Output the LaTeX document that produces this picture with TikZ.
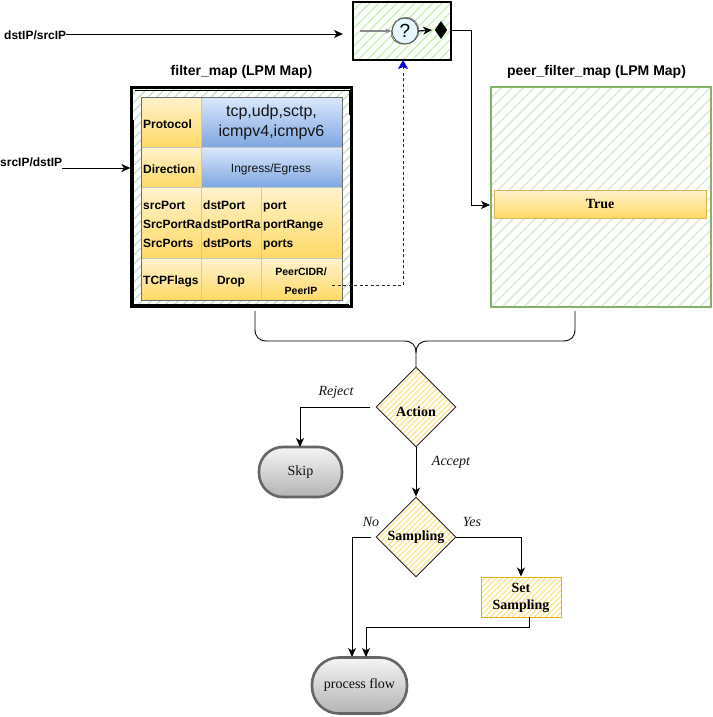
\documentclass[tikz,border=0pt]{standalone}
\usepackage{fontspec}
\setmainfont{Liberation Serif}
\setsansfont{Liberation Sans}
\usetikzlibrary{shapes.geometric,arrows.meta,calc}
\definecolor{hgreen}{HTML}{D5E8D4}
\definecolor{hframe}{HTML}{C5DFC3}
\definecolor{hlime}{HTML}{C4EFB0}
\definecolor{hyellow}{HTML}{FFE48A}
\definecolor{edgegreen}{HTML}{82B366}
\definecolor{edgeyellow}{HTML}{D6B656}
\definecolor{setedge}{HTML}{E6AC1E}
\definecolor{cellline}{HTML}{6E6E6E}
\definecolor{ytop}{HTML}{FFF2CC}
\definecolor{ybot}{HTML}{FFD966}
\definecolor{btop}{HTML}{DAE8FC}
\definecolor{bbot}{HTML}{7EA6E0}
\definecolor{gtop}{HTML}{F5F5F5}
\definecolor{gbot}{HTML}{B3B3B3}
\newcommand{\hatchbox}[7]{%
  \begin{scope}
    \clip (#1,#2) rectangle (#3,#4);
    \foreach \hi in {0,#6,...,700} {
      \draw[#5,line width=#7] ({#1+\hi-(#4-#2)},#4) -- ({#1+\hi},#2);
    }
  \end{scope}}
\tikzset{
  x=1pt,y=-1pt,
  wire/.style={draw=black,line width=0.85pt},
  arrowed/.style={wire,-{Stealth[length=9pt,width=8pt,inset=2.5pt]}},
  sanslabel/.style={font=\sffamily\bfseries\fontsize{14}{16}\selectfont,text=black},
  portlabel/.style={font=\sffamily\bfseries\fontsize{12}{14}\selectfont,text=black,inner sep=0pt,anchor=west},
  celltext/.style={font=\sffamily\bfseries\fontsize{12}{14}\selectfont,text=black,inner sep=0pt},
  portrows/.style={anchor=north west,inner sep=0pt,align=left,font=\sffamily\bfseries\fontsize{12}{19}\selectfont,text=black},
  edgelabel/.style={font=\itshape\fontsize{14}{16}\selectfont,text=black!92},
  ycell/.style={draw=black!22,line width=0.5pt,top color=ytop,bottom color=ybot,anchor=north west,inner sep=0pt},
  bcell/.style={draw=black!22,line width=0.5pt,top color=btop,bottom color=bbot,anchor=north west,inner sep=0pt},
  blob/.style={draw=black!60,line width=2.6pt,top color=gtop,bottom color=gbot,rounded corners=24pt,font=\fontsize{14}{16}\selectfont,text=black!95,inner sep=0pt},
  decision/.style={diamond,draw=black!85,line width=0.9pt,minimum width=80pt,minimum height=80pt,inner sep=0pt},
  dectext/.style={font=\bfseries\fontsize{14}{16}\selectfont,text=black,inner sep=0pt},
}
\begin{document}
\begin{tikzpicture}
\useasboundingbox (0,0) rectangle (712,717);
\fill[white] (0,0) rectangle (712,717);

% top matcher box
\hatchbox{353}{2}{451}{60}{hlime}{9}{1.1pt}
\node[draw=black,line width=2pt,minimum width=98pt,minimum height=58pt,inner sep=0pt] (lookup) at (402,31) {};
\node[circle,draw=black!65,line width=0.9pt,fill=cyan!10,minimum size=26pt,inner sep=0pt,font=\sffamily\fontsize{19}{19}\selectfont] (glyph) at (405,31) {?};
\draw[black!65,line width=0.6pt] (393,27) .. controls (396,15) and (414,14) .. (418,26) .. controls (422,40) and (408,47) .. (398,43) .. controls (390,39) and (390,33) .. (393,27);
\draw[black!45,line width=1.4pt,-{Stealth[length=6pt,width=5pt]}] (360,31) -- (glyph.west);
\draw[black,line width=1.2pt,-{Stealth[length=9pt,width=8pt]}] (glyph.east) -- (432,30);
\node[diamond,fill=black,draw=black,minimum width=12pt,minimum height=17pt,shape aspect=0.75,inner sep=0pt] (stop) at (441,30) {};

% filter map
\node[sanslabel] (ftitle) at (241.5,72) {filter\_map (LPM Map)};
\hatchbox{131}{87}{352}{307}{hframe}{9}{1.4pt}
\node[draw=black,line width=2.2pt,minimum width=220pt,minimum height=219pt,inner sep=0pt] (filter) at (241.5,197) {};
\draw[black,line width=0.7pt] (133.5,120) -- (133.5,304) -- (349,304);
\draw[black,line width=0.7pt] (135,90) -- (349,90) -- (349,115);
\draw[black,line width=1pt] (350,115) -- (350,250);

\node[ycell,minimum width=60pt,minimum height=50pt] (protocol) at (141,97) {};
\node[bcell,minimum width=141pt,minimum height=50pt] (protoval) at (201,97) {};
\node[ycell,minimum width=60pt,minimum height=40pt] (direction) at (141,147) {};
\node[bcell,minimum width=141pt,minimum height=40pt] (dirval) at (201,147) {};
\node[ycell,minimum width=60pt,minimum height=71pt] (srccell) at (141,187) {};
\node[ycell,minimum width=60pt,minimum height=71pt] (dstcell) at (201,187) {};
\node[ycell,minimum width=81pt,minimum height=71pt] (portcell) at (261,187) {};
\node[ycell,minimum width=60pt,minimum height=42pt] (flags) at (141,258) {};
\node[ycell,minimum width=60pt,minimum height=42pt] (dropcell) at (201,258) {};
\node[ycell,minimum width=81pt,minimum height=42pt] (peercell) at (261,258) {};
\draw[cellline,line width=0.8pt] (141,97) rectangle (342,300);

\node[portlabel] (protot) at (143,124) {Protocol};
\node[font=\sffamily\fontsize{16}{20}\selectfont,align=center,inner sep=0pt,text=black!92] (protovt) at (271.5,122.5) {tcp,udp,sctp,\\icmpv4,icmpv6};
\node[portlabel] (dirt) at (143,169) {Direction};
\node[font=\sffamily\fontsize{12}{14}\selectfont,inner sep=0pt,text=black!92] (dirvt) at (271,169) {Ingress/Egress};
\node[portrows] (srctext) at (143,197) {\rule{0pt}{12pt}srcPort\\SrcPortRa\\SrcPorts};
\node[portrows] (dsttext) at (203,197) {\rule{0pt}{12pt}dstPort\\dstPortRa\\dstPorts};
\node[portrows] (porttext) at (263,197) {\rule{0pt}{12pt}port\\portRange\\ports};
\node[portlabel] (flagst) at (143,281.5) {TCPFlags};
\node[celltext] (dropt) at (231,281.5) {Drop};
\node[align=center,inner sep=0pt,font=\sffamily\bfseries\fontsize{10.5}{19}\selectfont,text=black] (peert) at (301,281.5) {PeerCIDR/\\PeerIP};

% peer filter map
\node[sanslabel] (ptitle) at (596.5,72) {peer\_filter\_map (LPM Map)};
\hatchbox{491}{87}{711}{307}{hgreen}{11}{1.2pt}
\node[draw=edgegreen,line width=1.6pt,minimum width=220pt,minimum height=220pt,inner sep=0pt] (peer) at (601,197) {};
\node[draw=edgeyellow,line width=0.8pt,top color=ytop,bottom color=ybot,minimum width=212pt,minimum height=28pt,inner sep=0pt,font=\bfseries\fontsize{14}{16}\selectfont,text=black] (truebar) at (600,204) {\raisebox{1pt}{True}};

% decisions
\begin{scope}
\clip (416,367) -- (456,407) -- (416,447) -- (376,407) -- cycle;
\hatchbox{376}{367}{458}{449}{hyellow}{5.5}{1.3pt}
\end{scope}
\node[decision] (action) at (416,407) {};
\node[dectext] (actiont) at (416,412) {Action};
\begin{scope}
\clip (416,497) -- (456,537) -- (416,577) -- (376,537) -- cycle;
\hatchbox{376}{497}{458}{579}{hyellow}{5.5}{1.3pt}
\end{scope}
\node[decision] (sampling) at (416,537) {};
\node[dectext] (samplingt) at (416,537) {Sampling};

% set sampling
\hatchbox{481}{577}{561}{617}{hyellow}{5.5}{1.3pt}
\node[draw=setedge,line width=1pt,minimum width=80pt,minimum height=40pt,inner sep=0pt] (setsamp) at (521,597) {};
\node[align=center,inner sep=0pt,font=\bfseries\fontsize{14}{17}\selectfont,text=black] (setsampt) at (521,598) {Set\\Sampling};

% terminators
\node[blob,minimum width=83pt,minimum height=50pt] (skip) at (300.5,472) {Skip};
\node[blob,minimum width=95pt,minimum height=56pt,rounded corners=27pt] (process) at (359.5,685.5) {process flow};

% free labels
\node[portlabel] (dstlabel) at (4,35) {dstIP/srcIP};
\node[portlabel] (srclabel) at (0,162.5) {srcIP/dstIP};
\node[edgelabel] (rejectl) at (336,392) {Reject};
\node[edgelabel] (acceptl) at (451,462) {Accept};
\node[edgelabel] (nol) at (371,522) {No};
\node[edgelabel] (yesl) at (472,522) {Yes};

% free ends
\coordinate (dststart) at (66,34);
\coordinate (dstend) at (343,34);
\coordinate (srcstart) at (62,168);
\coordinate (dashstart) at (332,285);
\coordinate (actionout) at (370,407);
\coordinate (noout) at (371,537);
\coordinate (setout) at (529,617);
\coordinate (fbottom) at (255,311);
\coordinate (pbottom) at (575,311);
\coordinate (junction) at (416,367);
\coordinate (lookupout) at (451,30);
\coordinate (peerin) at (490,205);

% connectors
\draw[arrowed] (dststart) -- (dstend);
\draw[arrowed] (srcstart) -- (filter.west |- srcstart);
\draw[arrowed] (lookupout) -- (471,30) -- (471,205) -- (peerin);
\draw[draw=black!85,line width=0.6pt,dash pattern=on 3pt off 2.5pt] (dashstart) -- (403,285) -- (403,70);
\draw[draw=blue!85!black,-{Stealth[length=9pt,width=10pt,inset=2pt]},line width=0.6pt] (403,69) -- (403,60);
\draw[wire] (fbottom) -- (255,329) .. controls (255,337) and (259,341) .. (267,341) -- (404,341) .. controls (412,341) and (416,345) .. (416,353);
\draw[wire] (pbottom) -- (575,329) .. controls (575,337) and (571,341) .. (563,341) -- (428,341) .. controls (420,341) and (416,345) .. (416,353) -- (junction);
\draw[arrowed] (actionout) -- (300,407) -- (300,447);
\draw[arrowed] (action.south) -- (sampling.north);
\draw[arrowed] (noout) -- (352,537) -- (352,657);
\draw[arrowed] (sampling.east) -- (521,537) -- (setsamp.north);
\draw[arrowed] (setout) -- (529,627) -- (366,627) -- (366,657);
\end{tikzpicture}
\end{document}
